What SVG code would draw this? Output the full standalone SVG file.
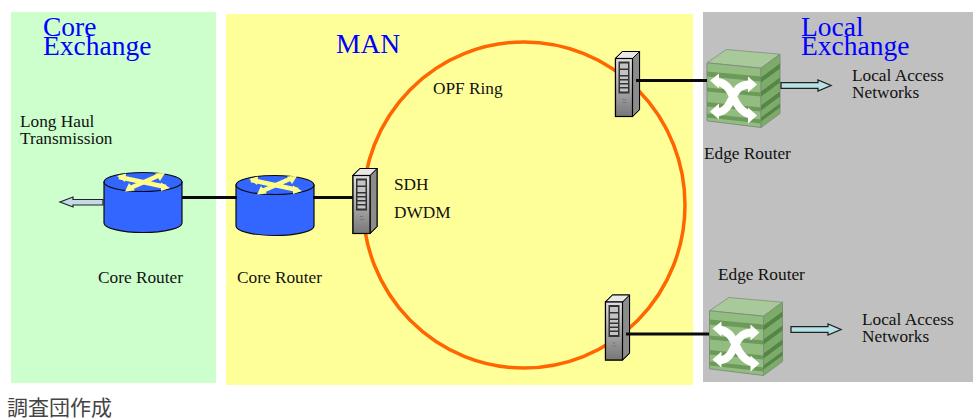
<svg xmlns="http://www.w3.org/2000/svg" width="973" height="418" viewBox="0 0 973 418">
<style>
text{font-family:"Liberation Serif","Times New Roman",serif;fill:#111}
.s{font-size:17.300px}
.b{font-size:27.500px;fill:#0000ff}
.j{font-family:"Noto Sans CJK JP","Noto Sans CJK SC",sans-serif;font-size:21px;fill:#444}
.w{fill:none;stroke:#0a0a0a;stroke-width:3}
</style>
<defs>
<filter id="soft" x="-10%" y="-10%" width="120%" height="120%"><feGaussianBlur stdDeviation="0.700"/></filter>
<linearGradient id="bar" x1="0" y1="0" x2="0" y2="1"><stop offset="0" stop-color="#e0e0e0"/><stop offset="1" stop-color="#777"/></linearGradient>
<symbol id="router" overflow="visible">
<path d="M0 10V51C0 56 17 60.500 39 60.500S78 56 78 51V10Z" fill="#3366ff" stroke="#0a0a0a" stroke-width="1.200"/>
<ellipse cx="39" cy="10" rx="39" ry="9.500" fill="#3366ff" stroke="#0a0a0a" stroke-width="1.200"/>
<path d="M15 5L62 15M56 3L24 17" stroke="#ffff88" stroke-width="4.500" fill="none"/>
<path d="M13 4L22 1.500L21 10ZM66 16L57 19L57 10.500ZM61 1L51 1.500L56 9ZM21 19.500L31 18.500L25 11Z" fill="#ffff88"/>
</symbol>
<symbol id="server" overflow="visible">
<path d="M0 7L7 0H24V58L17 65H0Z" fill="#bdbdbd" stroke="#000" stroke-width="1.200"/>
<path d="M17 7L24 0V58L17 65Z" fill="#8c8c8c" stroke="#000"/>
<path d="M0 7L7 0H24L17 7Z" fill="#e8e8e8" stroke="#000"/>
<rect x="0" y="7" width="17" height="58" fill="url(#bar)" stroke="#000" stroke-width="1.200"/>
<rect x="3" y="10" width="11" height="32" fill="#333"/>
<path d="M4.500 12h8v5h-8zM4.500 18.500h8v5h-8zM4.500 25h8v2.500h-8zM4.500 29h8v2.500h-8zM4.500 33h8v2.500h-8zM4.500 37h8v3h-8z" fill="#c4c4c4"/>
<path d="M7 48h3M7 51h4" stroke="#777" fill="none"/>
</symbol>
<symbol id="edge" overflow="visible">
<path d="M0 13.300L19.300 0L73 4.700L54 18.700Z" fill="#a8c99a" stroke="#8a9a8a"/>
<path d="M0 13.300L54 18.700V78L0 71.300Z" fill="#93bd80" stroke="#7f8f7f"/>
<path d="M54 18.700L73 4.700V64L54 78Z" fill="#7dab6a" stroke="#7f8f7f"/>
<path d="M0 22L54 27V32L0 27ZM0 38L54 43V47L0 42ZM0 52.500L54 58V62L0 57ZM0 64L54 70V74L0 68Z" fill="#6c9a5a" filter="url(#soft)"/>
<path d="M54 28L73 14V19L54 33ZM54 42L73 28V33L54 47ZM54 56L73 42V47L54 61ZM54 68L73 54V58L54 72Z" fill="#558547" filter="url(#soft)"/>
<g filter="url(#soft)">
<path d="M9 32C18 33 22 38 26 47C30 56 35 64 44 65M9 63C18 63 22 56 26 47C30 38 35 35 44 35" fill="none" stroke="#fff" stroke-width="8"/>
<path d="M3 31L12 24V39ZM50 35L41 27V43ZM3 62L12 54V70ZM50 66L41 58V74Z" fill="#fff"/>
</g>
</symbol>
<symbol id="arrow" overflow="visible">
<path d="M0 -2.800H37V-5.500L50 0L37 5.500V2.800H0Z" fill="#b5e2e4" stroke="#222" stroke-width="1.300"/>
</symbol>
</defs>
<rect width="973" height="418" fill="#fff"/>
<g id="panels">
<rect x="11" y="12" width="205" height="371" fill="#ccffcc"/>
<rect x="226" y="14" width="467" height="371" fill="#ffff99"/>
<rect x="703" y="12" width="270" height="370" fill="#c0c0c0"/>
</g>
<g id="ring"><ellipse cx="524" cy="205" rx="161" ry="163" fill="none" stroke="#ff6600" stroke-width="3.500"/></g>
<g id="core-router-1"><use href="#router" x="104" y="172"/></g>
<g id="core-router-2"><use href="#router" x="236" y="175"/></g>
<g id="server-sdh"><use href="#server" x="353" y="168.500"/></g>
<g id="server-top"><use href="#server" x="615.500" y="51.500"/></g>
<g id="server-bottom"><use href="#server" x="605.500" y="295"/></g>
<g id="edge-router-top"><use href="#edge" x="707" y="49.500"/></g>
<g id="edge-router-bottom"><use href="#edge" x="709.500" y="297.500"/></g>
<g id="connectors">
<path class="w" d="M182 197.500H237M313 197.500H353M636 80.500H707M626 334H709"/>
<path d="M103 199.500H73V197L60 202L73 207V205H103Z" fill="#c3dbe6" stroke="#222" stroke-width="1.200"/>
<use href="#arrow" x="781" y="85.500"/>
<use href="#arrow" x="791" y="329.500"/>
</g>
<g id="labels">
<text class="b" x="43" y="36">Core</text>
<text class="b" x="43" y="55">Exchange</text>
<text class="b" x="336" y="53">MAN</text>
<text class="b" x="801" y="36">Local</text>
<text class="b" x="801" y="55">Exchange</text>
<text class="s" x="20" y="127">Long Haul</text>
<text class="s" x="20" y="144">Transmission</text>
<text class="s" x="98" y="283">Core Router</text>
<text class="s" x="237" y="283">Core Router</text>
<text class="s" x="433" y="94">OPF Ring</text>
<text class="s" x="394" y="190">SDH</text>
<text class="s" x="394" y="218">DWDM</text>
<text class="s" x="704" y="159">Edge Router</text>
<text class="s" x="718" y="280">Edge Router</text>
<text class="s" x="852" y="81">Local Access</text>
<text class="s" x="852" y="98">Networks</text>
<text class="s" x="862" y="325">Local Access</text>
<text class="s" x="862" y="342">Networks</text>
<text class="j" x="7" y="415">調査団作成</text>
</g>
</svg>
